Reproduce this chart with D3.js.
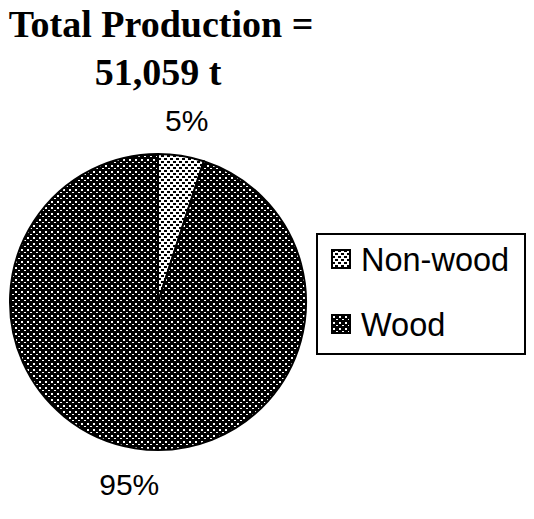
<!DOCTYPE html>
<html>
<head>
<meta charset="utf-8">
<script src="https://cdn.jsdelivr.net/npm/d3@7"></script>
<style>
  body { margin: 0; background: #fff; }
  svg { display: block; }
</style>
</head>
<body>
<svg id="chart" width="534" height="519"></svg>
<script>
const categories = ['Non-wood', 'Wood'];
const values = [5, 95];
const labels = ['5%', '95%'];
const titleLines = ['Total Production =', '51,059 t'];

var svg = d3.select('#chart');
var defs = svg.append('defs');

// light pattern: white with black checks
var p1 = defs.append('pattern').attr('id', 'pat0')
    .attr('patternUnits', 'userSpaceOnUse').attr('width', 6).attr('height', 6);
p1.append('rect').attr('width', 6).attr('height', 6).attr('fill', '#fff');
p1.append('rect').attr('x', 0).attr('y', 0).attr('width', 3).attr('height', 2).attr('fill', '#000');
p1.append('rect').attr('x', 3).attr('y', 3).attr('width', 3).attr('height', 2).attr('fill', '#000');

// dark pattern: black with small white dots
var p2 = defs.append('pattern').attr('id', 'pat1')
    .attr('patternUnits', 'userSpaceOnUse').attr('width', 6).attr('height', 6);
p2.append('rect').attr('width', 6).attr('height', 6).attr('fill', '#000');
p2.append('rect').attr('x', 1).attr('y', 1).attr('width', 2).attr('height', 2).attr('fill', '#fff');
p2.append('rect').attr('x', 4).attr('y', 4).attr('width', 2).attr('height', 1).attr('fill', '#fff');

// title
var serif = '"Liberation Serif", "Times New Roman", serif';
svg.append('text').attr('x', 161).attr('y', 37)
    .attr('text-anchor', 'middle')
    .style('font-family', serif)
    .style('font-weight', 'bold').style('font-size', '38px')
    .text(titleLines[0]);
svg.append('text').attr('x', 158).attr('y', 85)
    .attr('text-anchor', 'middle')
    .style('font-family', serif)
    .style('font-weight', 'bold').style('font-size', '38px')
    .text(titleLines[1]);

// pie
var cx = 158, cy = 302, r = 148;
var pie = d3.pie().sort(null).value(function (d) { return d; });
var arcs = pie(values);
var arc = d3.arc().innerRadius(0).outerRadius(r);
var labelArc = d3.arc().innerRadius(184).outerRadius(184);

var g = svg.append('g').attr('transform', 'translate(' + cx + ',' + cy + ')');
g.selectAll('path').data(arcs).enter().append('path')
    .attr('d', arc)
    .attr('fill', function (d, i) { return 'url(#pat' + i + ')'; })
    .attr('stroke', '#000').attr('stroke-width', 2);

g.selectAll('text').data(arcs).enter().append('text')
    .attr('transform', function (d) { return 'translate(' + labelArc.centroid(d) + ')'; })
    .attr('text-anchor', 'middle')
    .attr('dy', '0.36em')
    .style('font-family', '"Liberation Sans", Arial, sans-serif')
    .style('font-size', '30px')
    .text(function (d, i) { return labels[i]; });

// legend
var lg = svg.append('g').attr('transform', 'translate(317,234)');
lg.append('rect').attr('width', 208).attr('height', 120)
    .attr('fill', '#fff').attr('stroke', '#000').attr('stroke-width', 2);
var items = lg.selectAll('g.item').data(categories).enter().append('g')
    .attr('class', 'item')
    .attr('transform', function (d, i) { return 'translate(15,' + (16 + i * 65) + ')'; });
items.append('rect').attr('width', 18).attr('height', 18)
    .attr('fill', function (d, i) { return 'url(#pat' + i + ')'; })
    .attr('stroke', '#000').attr('stroke-width', 2);
items.append('text').attr('x', 29).attr('y', 9).attr('dy', '0.36em')
    .style('font-family', '"Liberation Sans", Arial, sans-serif')
    .style('font-size', '32.5px')
    .text(function (d) { return d; });
</script>
</body>
</html>
